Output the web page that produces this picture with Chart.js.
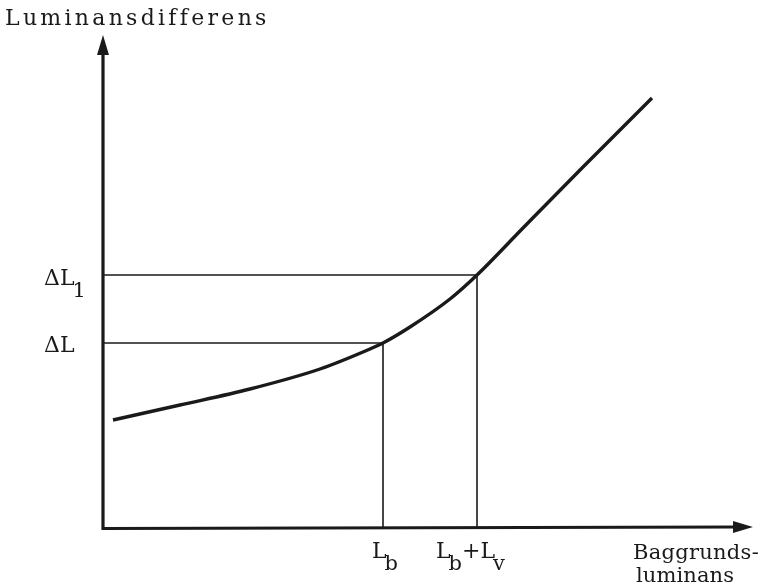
<!DOCTYPE html>
<html><head><meta charset="utf-8">
<script src="https://cdn.jsdelivr.net/npm/chart.js@4"></script>
<style>html,body{margin:0;padding:0;background:#fff}#wrap{width:764px;height:586px}</style>
</head><body><div id="wrap"><canvas id="c" width="764" height="586"></canvas></div>
<script>
// Curve (background luminance vs luminance difference), arbitrary units
const curveX = [10, 77, 147, 217, 267, 280, 307, 347, 374, 420, 480, 549];
const curveY = [107, 122, 138, 158, 178, 184, 200, 228, 252, 299, 360, 429];
// Reference values
const refX = [280, 374];        // L_b, L_b+L_v
const refY = [184, 252];        // ΔL, ΔL_1
const xRange = [0, 650];
const yRange = [0, 492];
const yAxisTitle = 'Luminansdifferens';
const xAxisTitle = ['Baggrunds-', 'luminans'];

const ink = '#1a1a1a';
const curve = curveX.map((x, i) => ({x, y: curveY[i]}));
const refSets = refX.map((x, i) => ({
  data: [{x: 0, y: refY[i]}, {x: x, y: refY[i]}, {x: x, y: 0}],
  borderColor: ink, borderWidth: 1.6, pointRadius: 0, tension: 0, fill: false
}));

const face = '"DejaVu Serif", "Liberation Serif", serif';

const decor = {
  id: 'decor',
  afterDatasetsDraw(chart) {
    const {ctx, scales: {x, y}} = chart;
    const x0 = x.getPixelForValue(0), y0 = y.getPixelForValue(0);
    const xEnd = x.getPixelForValue(xRange[1]), yEnd = y.getPixelForValue(yRange[1]);
    ctx.save();
    ctx.strokeStyle = ink; ctx.fillStyle = ink; ctx.lineWidth = 3.2; ctx.lineCap = 'butt';
    // axes
    ctx.beginPath();
    ctx.moveTo(x0, yEnd + 16); ctx.lineTo(x0, y0 + 1.5); ctx.lineTo(xEnd - 16, y0);
    ctx.stroke();
    // arrow heads
    ctx.beginPath();
    ctx.moveTo(x0, yEnd); ctx.lineTo(x0 - 6, yEnd + 20); ctx.lineTo(x0 + 6, yEnd + 20); ctx.closePath(); ctx.fill();
    ctx.beginPath();
    ctx.moveTo(xEnd, y0); ctx.lineTo(xEnd - 20, y0 - 6); ctx.lineTo(xEnd - 20, y0 + 6); ctx.closePath(); ctx.fill();

    ctx.textBaseline = 'alphabetic'; ctx.textAlign = 'left';
    function fit(t, px, py, w, size) {
      ctx.font = size + 'px ' + face;
      ctx.letterSpacing = '0px';
      const m = ctx.measureText(t).width;
      ctx.letterSpacing = ((w - m) / t.length) + 'px';
      ctx.fillText(t, px, py);
      ctx.letterSpacing = '0px';
    }
    fit(yAxisTitle, 5, 25, 264, 22);
    fit(xAxisTitle[0], 633, 559, 126, 21);
    fit(xAxisTitle[1], 636, 582, 98, 21);

    function sub(parts, px, py) {
      let cx = px;
      for (const [t, isSub] of parts) {
        ctx.font = (isSub ? 21 : 22) + 'px ' + face;
        ctx.fillText(t, cx, py + (isSub ? 12 : 0));
        cx += ctx.measureText(t).width - (isSub ? 0 : 2);
      }
    }
    // y labels
    sub([['ΔL', false], ['1', true]], 44, y.getPixelForValue(refY[1]) + 10);
    sub([['ΔL', false]], 44, y.getPixelForValue(refY[0]) + 9);
    // x labels
    sub([['L', false], ['b', true]], x.getPixelForValue(refX[0]) - 11, y0 + 31);
    sub([['L', false], ['b', true], ['+L', false], ['v', true]], x.getPixelForValue(refX[1]) - 41, y0 + 31);
    ctx.restore();
  }
};

new Chart(document.getElementById('c'), {
  type: 'line',
  data: {
    datasets: [
      {data: curve, borderColor: ink, borderWidth: 3.4, pointRadius: 0, cubicInterpolationMode: 'monotone', fill: false},
      ...refSets
    ]
  },
  options: {
    responsive: false, animation: false,
    layout: {padding: {left: 103, right: 11, top: 35, bottom: 59}},
    plugins: {legend: {display: false}, tooltip: {enabled: false}},
    scales: {
      x: {type: 'linear', min: xRange[0], max: xRange[1], display: false},
      y: {type: 'linear', min: yRange[0], max: yRange[1], display: false}
    }
  },
  plugins: [decor]
});
</script></body></html>
